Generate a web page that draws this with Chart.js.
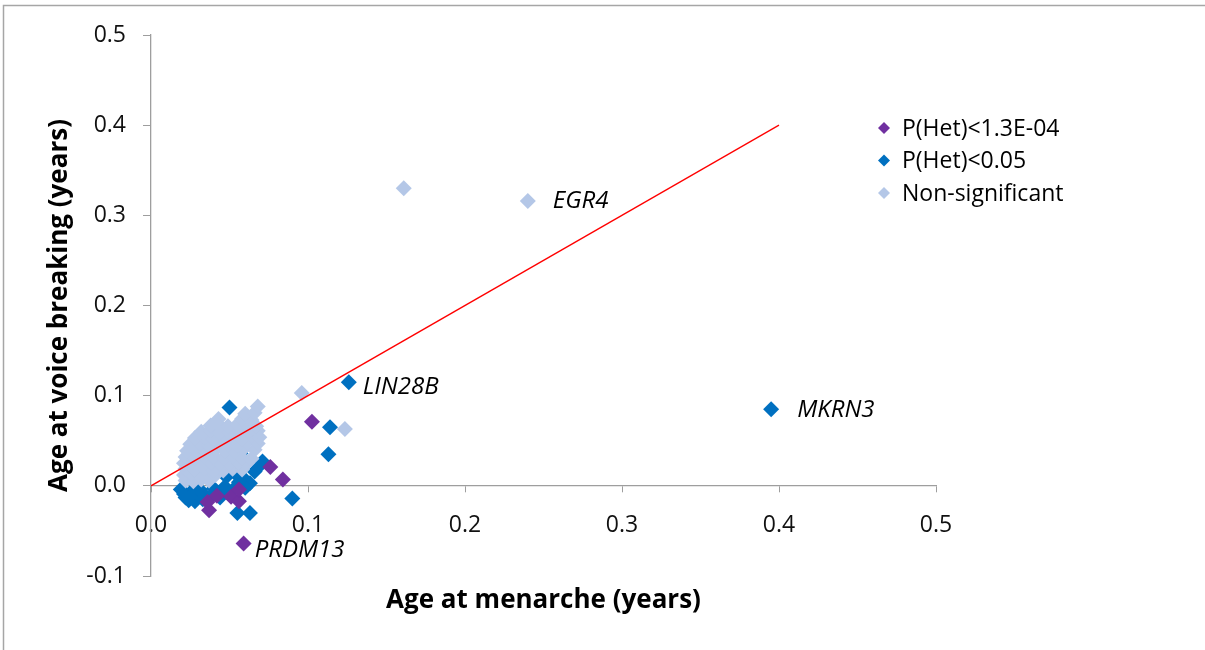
<!DOCTYPE html>
<html>
<head>
<meta charset="utf-8">
<script src="https://cdn.jsdelivr.net/npm/chart.js@4/dist/chart.umd.min.js"></script>
<style>
  html, body { margin: 0; padding: 0; background: #fff; }
  #wrap { position: relative; width: 1205px; height: 650px; }
</style>
</head>
<body>
<div id="wrap"><canvas id="chart"></canvas></div>
<script>
// Effect sizes per locus: [age at menarche, age at voice breaking] (years)
const hetStrong = [
  [0.1025, 0.071], [0.084, 0.007], [0.076, 0.021], [0.059, -0.064],
  [0.037, -0.027], [0.036, -0.018], [0.051, -0.012], [0.056, -0.017],
  [0.042, -0.011], [0.056, -0.004]
];
const hetNominal = [
  [0.126, 0.115], [0.395, 0.085], [0.050, 0.087], [0.114, 0.065],
  [0.113, 0.035], [0.071, 0.027], [0.090, -0.014], [0.055, -0.030],
  [0.063, -0.030], [0.063, 0.003], [0.060, -0.002], [0.052, -0.005],
  [0.045, -0.007], [0.040, -0.003], [0.034, -0.010], [0.029, -0.012],
  [0.024, -0.016], [0.021, -0.009], [0.026, -0.006], [0.031, -0.004],
  [0.047, -0.001], [0.056, 0.004], [0.066, 0.016], [0.057, 0.036],
  [0.058, 0.010], [0.069, 0.022], [0.019, -0.004], [0.048, 0.010],
  [0.054, 0.013], [0.028, -0.017], [0.033, -0.015], [0.038, -0.012],
  [0.044, -0.013], [0.022, -0.013], [0.049, -0.008]
];
const nonSig = [
  [0.161, 0.330], [0.240, 0.316], [0.096, 0.103], [0.1235, 0.063],
  [0.022, 0.006], [0.027, 0.005], [0.032, 0.007], [0.037, 0.006],
  [0.021, 0.012], [0.026, 0.013], [0.031, 0.011], [0.036, 0.013], [0.041, 0.012], [0.046, 0.017],
  [0.022, 0.019], [0.028, 0.018], [0.034, 0.019], [0.040, 0.017], [0.052, 0.019], [0.058, 0.018],
  [0.021, 0.025], [0.026, 0.026], [0.032, 0.024], [0.038, 0.026], [0.044, 0.025], [0.050, 0.024], [0.056, 0.026], [0.061, 0.025],
  [0.022, 0.032], [0.028, 0.031], [0.034, 0.033], [0.040, 0.032], [0.046, 0.031], [0.052, 0.033], [0.058, 0.031], [0.064, 0.030],
  [0.023, 0.039], [0.029, 0.040], [0.035, 0.038], [0.041, 0.040], [0.047, 0.039], [0.053, 0.038], [0.059, 0.041], [0.066, 0.040],
  [0.025, 0.046], [0.031, 0.047], [0.037, 0.045], [0.043, 0.047], [0.049, 0.046], [0.055, 0.045], [0.061, 0.048], [0.068, 0.047],
  [0.028, 0.053], [0.034, 0.054], [0.040, 0.052], [0.046, 0.054], [0.052, 0.053], [0.058, 0.052], [0.064, 0.055], [0.069, 0.054],
  [0.032, 0.060], [0.038, 0.061], [0.044, 0.059], [0.050, 0.060], [0.056, 0.062], [0.062, 0.060], [0.068, 0.061],
  [0.038, 0.067], [0.043, 0.068], [0.049, 0.066], [0.055, 0.068], [0.061, 0.067], [0.067, 0.066],
  [0.043, 0.074], [0.058, 0.074], [0.064, 0.073],
  [0.060, 0.080], [0.066, 0.081], [0.068, 0.088]
];
const equalityLine = [[0, 0], [0.4, 0.4]];

const seriesNames = ['P(Het)<1.3E-04', 'P(Het)<0.05', 'Non-significant'];
const seriesColors = ['#7030A0', '#0070C0', '#B4C7E7'];

// Named loci: [name, series index, point index]
const geneLabels = [
  ['EGR4', 2, 1],
  ['LIN28B', 1, 0],
  ['MKRN3', 1, 1],
  ['PRDM13', 0, 3]
];
const labelOffsets = { EGR4: [25, 0], LIN28B: [14, 5], MKRN3: [26, 1], PRDM13: [11, 7] };

const xTicks = [0, 0.1, 0.2, 0.3, 0.4, 0.5];
const yTicks = [-0.1, 0, 0.1, 0.2, 0.3, 0.4, 0.5];

const FONT = '"Open Sans", Calibri, "Noto Sans", sans-serif';
const toXY = pts => pts.map(p => ({ x: p[0], y: p[1] }));
const seriesData = [hetStrong, hetNominal, nonSig];

// frame, x title, gene names and legend
const extras = {
  id: 'extras',
  beforeDraw(chart) {
    const ctx = chart.ctx;
    ctx.save();
    ctx.strokeStyle = '#a6a6a6';
    ctx.lineWidth = 1.5;
    ctx.strokeRect(3.5, 5.5, 2000, 2000);
    ctx.restore();
  },
  afterDraw(chart) {
    const ctx = chart.ctx;
    const xs = chart.scales.x, ys = chart.scales.y;
    ctx.save();

    ctx.fillStyle = '#000';
    ctx.font = 'bold 26px ' + FONT;
    ctx.textAlign = 'center';
    ctx.textBaseline = 'middle';
    ctx.fillText('Age at menarche (years)', (chart.chartArea.left + chart.chartArea.right) / 2, 601);

    ctx.font = 'italic 24px ' + FONT;
    ctx.textAlign = 'left';
    geneLabels.forEach(g => {
      const pt = seriesData[g[1]][g[2]];
      const off = labelOffsets[g[0]];
      ctx.fillText(g[0], xs.getPixelForValue(pt[0]) + off[0], ys.getPixelForValue(pt[1]) + off[1]);
    });

    ctx.font = '23px ' + FONT;
    seriesNames.forEach((name, i) => {
      const cy = 128 + i * 32.5;
      const cx = 884;
      const r = 6;
      ctx.fillStyle = seriesColors[i];
      ctx.beginPath();
      ctx.moveTo(cx, cy - r);
      ctx.lineTo(cx + r, cy);
      ctx.lineTo(cx, cy + r);
      ctx.lineTo(cx - r, cy);
      ctx.closePath();
      ctx.fill();
      ctx.fillStyle = '#000';
      ctx.fillText(name, 902, cy + 1);
    });
    ctx.restore();
  }
};

const pointSet = (i, order) => ({
  type: 'scatter',
  label: seriesNames[i],
  data: toXY(seriesData[i]),
  backgroundColor: seriesColors[i],
  borderWidth: 0,
  pointStyle: 'rectRot',
  pointRadius: 8,
  order: order
});

new Chart(document.getElementById('chart'), {
  type: 'scatter',
  data: {
    datasets: [
      {
        type: 'line',
        label: 'y = x',
        data: toXY(equalityLine),
        borderColor: '#ff0000',
        borderWidth: 1.3,
        pointRadius: 0,
        fill: false,
        order: 0
      },
      pointSet(0, 1),
      pointSet(2, 2),
      pointSet(1, 3)
    ]
  },
  options: {
    responsive: true,
    maintainAspectRatio: false,
    animation: false,
    events: [],
    layout: { padding: { left: 44, top: 35, right: 269, bottom: 74 } },
    scales: {
      x: {
        type: 'linear',
        position: { y: 0 },
        min: 0,
        max: 0.5,
        afterBuildTicks: scale => { scale.ticks = xTicks.map(v => ({ value: v })); },
        ticks: {
          padding: 20,
          color: '#111',
          font: { family: FONT, size: 23 },
          callback: v => v.toFixed(1),
          maxRotation: 0
        },
        grid: { display: true, drawOnChartArea: false, drawTicks: true, tickLength: 6, color: '#9e9e9e' },
        border: { display: true, color: '#9e9e9e', width: 1.3 }
      },
      y: {
        type: 'linear',
        min: -0.1,
        max: 0.5,
        afterBuildTicks: scale => { scale.ticks = yTicks.map(v => ({ value: v })); },
        afterFit: scale => { scale.width = 107; },
        ticks: {
          padding: 17,
          color: '#111',
          font: { family: FONT, size: 23 },
          callback: v => v.toFixed(1)
        },
        grid: { display: true, drawOnChartArea: false, drawTicks: true, tickLength: 8, color: '#9e9e9e' },
        border: { display: true, color: '#9e9e9e', width: 1.3 },
        title: {
          display: true,
          text: 'Age at voice breaking (years)',
          color: '#000',
          font: { family: FONT, size: 26, weight: 'bold' },
          padding: { top: 0, bottom: 0 }
        }
      }
    },
    plugins: {
      legend: { display: false },
      tooltip: { enabled: false }
    }
  },
  plugins: [extras]
});
</script>
</body>
</html>
